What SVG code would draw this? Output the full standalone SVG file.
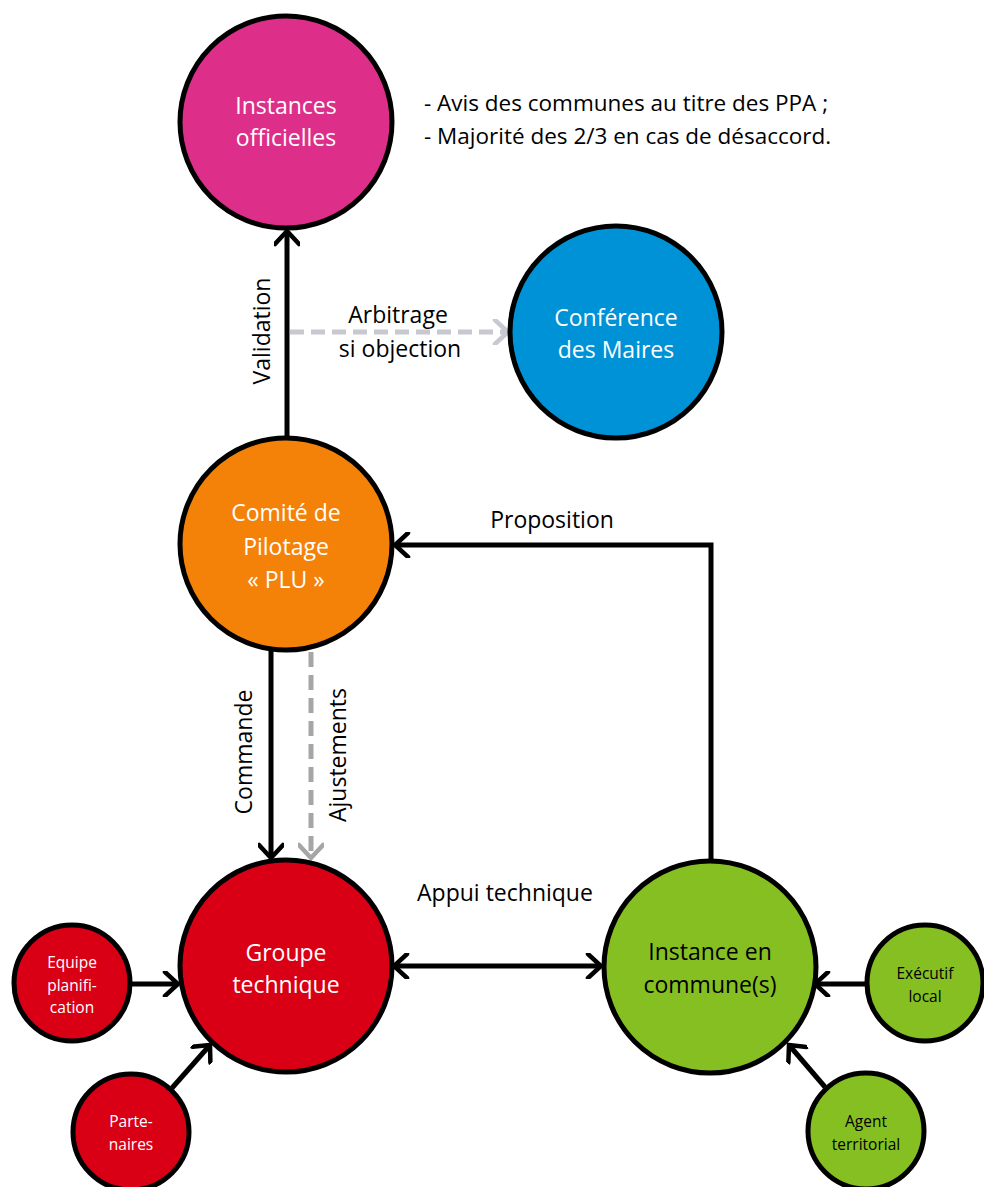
<svg xmlns="http://www.w3.org/2000/svg" width="984" height="1187" viewBox="0 0 984 1187">
<style>
.node{stroke:#000;stroke-width:5}
.lw{font-family:"Open Sans","Liberation Sans",sans-serif;font-size:23px;fill:#fff;text-anchor:middle}
.lb{font-family:"Open Sans","Liberation Sans",sans-serif;font-size:23px;fill:#000;text-anchor:middle}
.sw{font-family:"Open Sans","Liberation Sans",sans-serif;font-size:15.5px;fill:#fff;text-anchor:middle}
.sb{font-family:"Open Sans","Liberation Sans",sans-serif;font-size:15.5px;fill:#000;text-anchor:middle}
.cl{font-family:"Open Sans","Liberation Sans",sans-serif;font-size:23px;fill:#000;text-anchor:middle}
.note{font-family:"Open Sans","Liberation Sans",sans-serif;font-size:22.5px;fill:#000}
.k{fill:none;stroke:#000;stroke-width:5}
</style>
<defs>
<marker id="ab" viewBox="0 0 26 26" refX="22" refY="13" markerWidth="26" markerHeight="26" markerUnits="userSpaceOnUse" orient="auto-start-reverse">
<path d="M9,1 L22,13 L9,25" fill="none" stroke="#000" stroke-width="4.5" stroke-linecap="round" stroke-linejoin="miter"/>
</marker>
<marker id="ag1" viewBox="0 0 26 26" refX="22" refY="13" markerWidth="26" markerHeight="26" markerUnits="userSpaceOnUse" orient="auto">
<path d="M9,1 L22,13 L9,25" fill="none" stroke="#c8c8d0" stroke-width="4.5" stroke-linecap="round"/>
</marker>
<marker id="ag2" viewBox="0 0 26 26" refX="22" refY="13" markerWidth="26" markerHeight="26" markerUnits="userSpaceOnUse" orient="auto">
<path d="M9,1 L22,13 L9,25" fill="none" stroke="#a6a6a6" stroke-width="4.5" stroke-linecap="round"/>
</marker>
</defs>

<g id="connectors">
<line x1="287" y1="437" x2="287" y2="231" class="k" marker-end="url(#ab)"/>
<line x1="290" y1="332" x2="508" y2="332" fill="none" stroke="#c8c8d0" stroke-width="5" stroke-dasharray="14 7" marker-end="url(#ag1)"/>
<line x1="271" y1="650" x2="271" y2="858" class="k" marker-end="url(#ab)"/>
<line x1="311" y1="652" x2="311" y2="858" fill="none" stroke="#a6a6a6" stroke-width="5" stroke-dasharray="15 8" marker-end="url(#ag2)"/>
<polyline points="711,860 711,545 395,545" class="k" marker-end="url(#ab)"/>
<line x1="394" y1="966" x2="601" y2="966" class="k" marker-start="url(#ab)" marker-end="url(#ab)"/>
<line x1="130" y1="984" x2="178" y2="984" class="k" marker-end="url(#ab)"/>
<line x1="172" y1="1088" x2="210" y2="1045" class="k" marker-end="url(#ab)"/>
<line x1="866" y1="984" x2="815" y2="984" class="k" marker-end="url(#ab)"/>
<line x1="825" y1="1087" x2="789" y2="1045" class="k" marker-end="url(#ab)"/>
<text class="cl" transform="translate(270,331) rotate(-90)">Validation</text>
<text class="cl" x="398" y="323">Arbitrage</text>
<text class="cl" x="400" y="357">si objection</text>
<text class="cl" transform="translate(252,752) rotate(-90)">Commande</text>
<text class="cl" transform="translate(346,755) rotate(-90)">Ajustements</text>
<text class="cl" x="552" y="528">Proposition</text>
<text class="cl" x="505" y="901">Appui technique</text>
</g>

<g id="instances-officielles">
<circle cx="286" cy="122" r="106" fill="#DD2E8A" class="node"/>
<text class="lw" x="286" y="114">Instances</text>
<text class="lw" x="286" y="146">officielles</text>
</g>

<g id="note">
<text class="note" x="424" y="111">- Avis des communes au titre des PPA ;</text>
<text class="note" x="424" y="144">- Majorité des 2/3 en cas de désaccord.</text>
</g>

<g id="conference-des-maires">
<circle cx="616" cy="332" r="106" fill="#0092D6" class="node"/>
<text class="lw" x="616" y="326">Conférence</text>
<text class="lw" x="616" y="358">des Maires</text>
</g>

<g id="comite-de-pilotage">
<circle cx="286" cy="544" r="106" fill="#F58208" class="node"/>
<text class="lw" x="286" y="521">Comité de</text>
<text class="lw" x="286" y="555">Pilotage</text>
<text class="lw" x="286" y="588">« PLU »</text>
</g>

<g id="groupe-technique">
<circle cx="286" cy="966" r="106" fill="#D90016" class="node"/>
<text class="lw" x="286" y="961">Groupe</text>
<text class="lw" x="286" y="993">technique</text>
</g>

<g id="instance-en-communes">
<circle cx="710" cy="967" r="106" fill="#86BF22" class="node"/>
<text class="lb" x="710" y="960">Instance en</text>
<text class="lb" x="710" y="993">commune(s)</text>
</g>

<g id="equipe-planification">
<circle cx="72" cy="983" r="58" fill="#D90016" class="node"/>
<text class="sw" x="72" y="968">Equipe</text>
<text class="sw" x="72" y="991">planifi-</text>
<text class="sw" x="72" y="1013">cation</text>
</g>

<g id="partenaires">
<circle cx="131" cy="1132" r="58" fill="#D90016" class="node"/>
<text class="sw" x="131" y="1127">Parte-</text>
<text class="sw" x="131" y="1150">naires</text>
</g>

<g id="executif-local">
<circle cx="925" cy="983" r="58" fill="#86BF22" class="node"/>
<text class="sb" x="925" y="979">Exécutif</text>
<text class="sb" x="925" y="1002">local</text>
</g>

<g id="agent-territorial">
<circle cx="866" cy="1131" r="58" fill="#86BF22" class="node"/>
<text class="sb" x="866" y="1127">Agent</text>
<text class="sb" x="866" y="1150">territorial</text>
</g>
</svg>
